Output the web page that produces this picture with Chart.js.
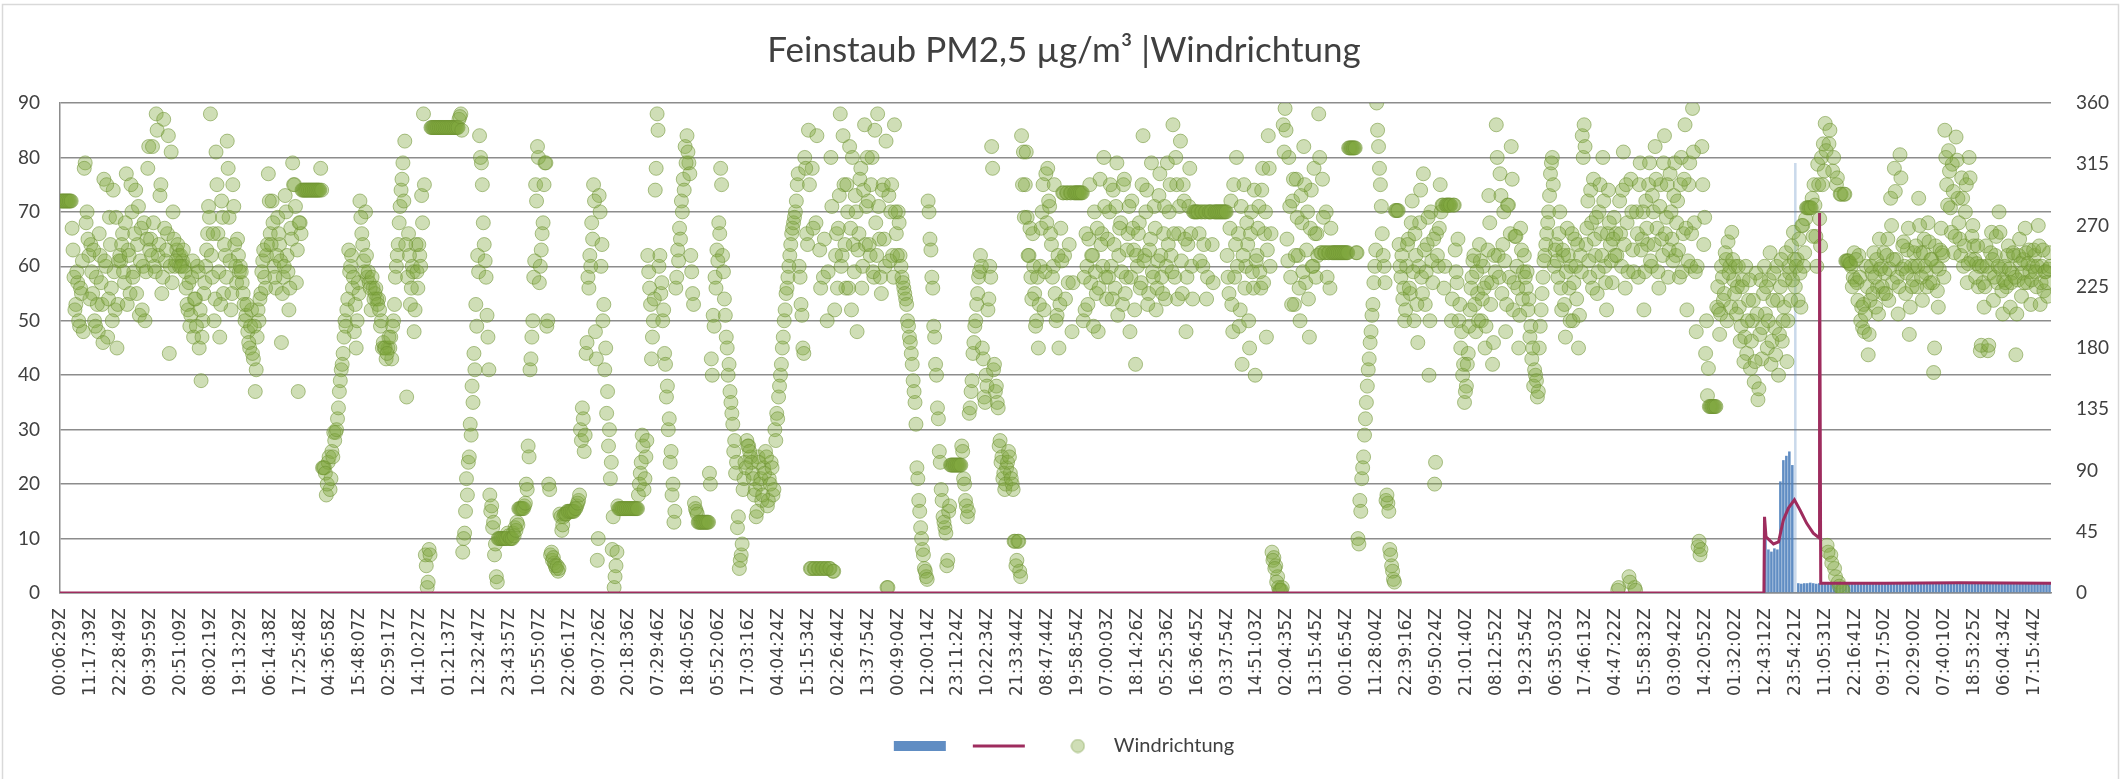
<!DOCTYPE html>
<html><head><meta charset="utf-8">
<script src="https://cdn.jsdelivr.net/npm/chart.js@4.4.1/dist/chart.umd.min.js"></script>
<style>html,body{margin:0;padding:0;background:#fff;}canvas{display:block;}</style>
</head><body>
<canvas id="c" width="2128" height="779"></canvas>
<script>
const timeLabels = ["00:06:29Z","11:17:39Z","22:28:49Z","09:39:59Z","20:51:09Z","08:02:19Z","19:13:29Z","06:14:38Z","17:25:48Z","04:36:58Z",
"15:48:07Z","02:59:17Z","14:10:27Z","01:21:37Z","12:32:47Z","23:43:57Z","10:55:07Z","22:06:17Z","09:07:26Z","20:18:36Z",
"07:29:46Z","18:40:56Z","05:52:06Z","17:03:16Z","04:04:24Z","15:15:34Z","02:26:44Z","13:37:54Z","00:49:04Z","12:00:14Z",
"23:11:24Z","10:22:34Z","21:33:44Z","08:47:44Z","19:58:54Z","07:00:03Z","18:14:26Z","05:25:36Z","16:36:45Z","03:37:54Z",
"14:51:03Z","02:04:35Z","13:15:45Z","00:16:54Z","11:28:04Z","22:39:16Z","09:50:24Z","21:01:40Z","08:12:52Z","19:23:54Z",
"06:35:03Z","17:46:13Z","04:47:22Z","15:58:32Z","03:09:42Z","14:20:52Z","01:32:02Z","12:43:12Z","23:54:21Z","11:05:31Z",
"22:16:41Z","09:17:50Z","20:29:00Z","07:40:10Z","18:53:25Z","06:04:34Z","17:15:44Z"];

// Windrichtung (degrees): 16 samples per label interval, two interleaved passes
const samplesPerLabel = 16;
const windA = [
288,288,288,288,288,288,268,232,212,228,196,220,192,316,280,248,
256,220,200,232,192,248,212,304,240,188,276,224,296,208,180,244,
244,264,228,308,252,220,280,236,296,256,204,268,240,200,260,328,
260,328,240,352,248,292,220,348,244,264,176,324,280,240,252,248,
248,244,240,224,208,196,232,188,216,240,180,156,200,228,252,284,
352,232,200,324,264,188,288,220,248,332,276,208,300,256,228,248,
240,228,212,204,192,180,208,172,148,188,200,220,244,232,248,308,
264,288,240,224,276,256,184,232,292,248,208,268,316,300,228,148,
272,296,296,296,296,296,296,296,296,296,296,312,92,92,72,96,
76,104,118,118,128,148,164,176,200,208,252,240,224,192,180,228,
288,264,244,280,232,228,208,224,220,216,216,196,180,180,172,180,
180,172,200,232,248,272,296,316,332,144,264,212,240,192,256,224,
248,292,352,28,4,32,342,342,342,342,342,342,342,342,342,342,
342,342,342,342,342,348,352,30,44,84,96,124,152,176,212,248,
336,316,272,244,204,164,60,48,28,12,40,40,40,40,40,44,
40,40,44,48,52,62,62,62,64,80,108,164,188,232,300,328,
228,252,272,316,196,80,28,24,22,18,16,58,46,56,58,60];
const windB = [
60,60,60,62,64,68,120,136,104,176,232,248,272,300,192,24,
292,240,200,164,132,108,84,32,4,20,64,62,62,62,62,62,
62,62,62,62,62,72,88,116,76,100,248,224,172,200,296,352,
240,220,200,176,144,120,96,72,52,224,252,268,288,304,328,336,
316,248,220,66,60,52,52,52,52,52,52,88,172,204,232,252,
272,312,248,216,188,160,148,132,104,88,48,18,28,76,96,112,
108,100,88,72,56,100,80,68,92,104,64,84,96,72,120,132,
144,160,180,200,220,232,248,264,272,280,300,240,212,180,320,264,
340,18,312,18,272,18,252,18,232,18,200,18,320,16,208,264,
268,352,248,300,224,280,328,208,256,292,192,264,312,240,344,284,
288,248,320,232,272,352,260,220,300,240,4,292,280,248,344,264,
280,248,232,224,216,200,188,176,156,140,92,68,48,32,18,12,
288,260,232,196,168,136,104,76,56,48,20,60,94,94,94,94,
94,94,108,84,68,56,132,148,176,196,212,232,248,180,144,160,
208,240,328,164,148,140,108,96,84,76,92,104,88,80,38,20,
38,16,336,324,300,276,248,232,264,220,200,180,240,280,208,308,
312,284,256,240,220,204,180,268,294,248,294,228,294,192,294,294];
const windC = [
294,294,294,200,208,240,260,228,248,280,220,192,304,264,320,232,
260,280,240,296,224,316,248,272,212,304,232,264,192,288,252,168,
240,272,228,336,248,296,220,260,236,284,208,244,308,232,264,216,
316,280,248,344,232,300,264,332,220,288,192,256,312,240,280,280,
280,264,280,240,280,216,280,280,256,280,280,280,280,280,280,280,
248,220,288,192,232,320,264,208,168,300,240,256,180,280,224,160,
248,284,224,312,264,188,336,240,30,26,20,12,2,2,344,356,
260,320,232,288,212,304,248,200,272,328,228,280,188,296,240,264,
264,352,250,304,250,280,250,224,250,250,250,250,250,250,250,250,
250,327,327,327,327,250,40,68,84,100,128,152,172,192,212,240,
360,328,300,264,240,68,66,32,20,10,281,281,256,232,216,200,
240,260,220,288,200,248,184,272,232,308,212,256,160,280,228,80,
264,240,300,285,224,285,285,285,200,285,252,228,200,180,160,140,
152,176,208,232,248,192,220,256,200,240,180,228,292,212,168,248,
344,248,308,220,280,192,285,232,328,208,262,240,180,268,216,248,
224,208,188,172,152,160,144,180,208,232,248,264,280,308,320,240,
256,232,280,208,248,188,268,224,240,200,260,216,180,248,336,344];
const windD = [
256,288,232,272,304,248,220,280,264,320,240,208,296,256,228,276,
264,2,288,240,324,224,272,12,304,252,4,280,232,316,260,208,
288,256,316,240,280,328,268,224,300,248,336,276,232,308,260,292,
248,288,232,320,264,344,208,300,240,356,272,192,34,28,328,256,
176,145,137,137,137,137,210,208,205,232,220,245,258,240,265,230,
240,225,210,196,230,188,176,215,165,200,155,235,142,190,172,220,
205,180,230,168,215,195,240,160,225,185,210,250,200,235,255,265,
225,245,260,210,270,250,283,283,283,290,300,262,315,275,320,330,
345,35,330,28,310,18,300,8,293,3,293,244,244,242,240,232,
230,228,248,200,195,192,240,175,215,235,250,210,225,260,240,220,
235,248,215,290,228,312,245,205,322,238,258,220,252,190,240,230,
240,225,290,250,215,260,235,272,228,245,162,255,222,238,268,248,
340,300,325,283,315,250,335,290,260,305,240,280,228,320,245,270,
245,242,225,178,240,210,255,178,235,265,215,248,228,280,238,205,
240,225,255,210,235,248,175,230,260,218,245,268,228,252,212,240,
248,225,270,212,240,222,236,218,250];

// second pass, half a sample later
const windA2 = [
288,288,288,288,288,288,252,208,236,200,224,244,312,272,260,216,
236,252,196,212,264,228,184,244,300,216,256,200,236,276,212,248,
256,236,272,212,248,300,232,264,220,284,244,208,272,236,312,252,
248,272,236,340,256,300,232,268,252,336,240,228,260,244,256,240,
240,252,236,212,228,204,244,216,196,236,208,188,220,240,264,276,
248,264,216,300,236,212,276,256,232,312,244,220,284,240,260,236,
236,220,200,212,184,196,176,196,164,208,216,236,252,224,256,288,
256,272,232,248,264,244,220,240,280,236,224,260,300,284,252,272,
264,296,296,296,296,296,296,296,296,296,296,296,92,88,80,100,
84,100,112,120,136,156,168,188,196,216,236,248,232,212,200,220,
276,256,236,248,236,224,232,216,224,212,208,200,184,180,176,188,
188,196,212,240,256,284,304,288,256,232,248,224,236,208,236,256,
240,272,300,20,8,28,342,342,342,342,342,342,342,342,342,342,
342,342,342,342,342,350,340,40,60,72,100,116,140,164,196,236,
320,300,256,232,188,72,64,52,36,8,40,40,40,40,40,42,
40,40,42,46,50,62,62,62,66,76,100,172,200,244,288,320,
240,264,300,316,200,76,30,26,20,20,18,56,50,58,58,60];
const windB2 = [
60,60,60,62,66,72,112,128,116,184,224,240,260,288,172,40,
280,256,212,180,148,120,96,56,12,30,62,62,62,62,62,62,
62,62,62,62,62,80,96,108,84,112,236,212,188,216,312,340,
248,228,208,168,152,128,104,80,60,232,244,260,280,296,316,324,
308,236,212,62,58,52,52,52,52,52,52,80,160,196,224,244,
264,300,236,204,180,168,140,124,112,96,56,24,36,84,92,108,
104,96,84,76,60,96,84,72,88,100,68,80,92,76,112,128,
152,168,188,208,224,240,256,268,276,288,308,232,204,176,312,256,
300,18,268,18,336,18,224,18,260,18,236,18,284,16,248,224,
292,240,336,256,300,224,268,320,236,280,252,304,224,296,256,320,
256,300,236,340,248,284,232,296,260,332,4,244,300,232,280,248,
272,240,228,220,212,196,184,168,148,124,84,60,40,28,16,10,
280,252,224,188,160,128,96,68,52,44,24,64,94,94,94,94,
94,94,104,80,64,60,136,156,184,200,220,236,240,172,140,152,
216,232,312,168,152,136,112,100,88,80,96,100,84,76,38,24,
38,12,300,276,324,248,268,216,240,196,232,212,268,300,236,272,
288,264,232,300,200,248,212,244,294,216,294,256,294,228,294,294];
const windC2 = [
294,294,294,232,264,212,300,248,196,236,268,224,256,240,284,216,
232,300,216,256,284,204,268,236,300,220,252,284,232,268,208,248,
264,224,300,244,280,212,252,316,232,268,224,292,248,220,284,240,
256,300,236,264,320,216,284,244,300,260,232,284,264,216,280,280,
280,244,280,256,280,232,280,280,228,280,280,280,280,280,280,280,
232,268,212,300,256,240,196,284,248,224,272,200,264,236,296,244,
268,236,296,228,280,252,312,264,24,18,8,4,2,4,324,340,
244,284,212,304,248,276,224,292,236,300,252,216,268,240,312,232,
248,320,250,276,250,232,250,268,250,250,250,250,250,250,250,250,
250,327,327,327,327,250,36,60,92,116,140,164,184,204,228,252,
340,312,284,248,228,72,60,28,16,8,281,281,240,248,224,208,
256,224,272,236,264,212,240,296,220,252,236,276,200,244,260,96,
248,268,280,285,240,285,285,285,216,285,236,260,212,192,168,148,
168,196,224,244,212,236,200,244,216,224,196,252,272,228,184,236,
320,232,292,256,244,212,285,264,304,228,262,224,204,252,236,232,
236,216,196,180,164,156,148,196,220,244,256,272,292,316,300,252,
244,264,224,252,212,236,248,200,264,228,240,256,204,236,320,328];
const windD2 = [
268,244,296,224,260,276,236,300,248,288,228,264,272,244,260,248,
248,4,264,296,256,300,236,8,280,236,2,264,300,252,280,236,
268,300,244,292,256,304,236,284,260,316,264,300,252,280,244,316,
272,252,300,236,304,268,244,316,264,324,236,240,38,32,300,276,
200,165,137,137,137,137,225,190,240,215,250,200,235,210,245,220,
205,240,185,225,170,240,200,230,185,215,170,205,150,230,195,240,
225,200,250,185,235,175,215,190,245,200,230,170,240,215,230,245,
240,215,235,270,240,275,283,283,283,262,285,240,300,255,300,310,
325,30,340,22,320,12,305,5,293,2,293,244,244,242,225,250,
245,215,232,210,212,205,225,190,240,220,232,245,205,238,225,250,
220,260,238,270,245,295,232,225,305,255,240,235,268,210,225,250,
255,240,270,232,250,240,225,258,245,228,180,240,210,252,250,232,
320,285,310,265,295,262,318,272,248,290,255,300,242,305,262,255,
232,255,240,182,228,225,240,182,250,245,232,262,240,265,222,230,
228,248,238,228,250,232,205,248,242,235,228,250,242,236,230,252,
236,240,255,228,252,236,228,238,240];

// Feinstaub PM2,5 (µg/m³), bars from time index pmStart every pmStep
const pmStart = 57.0, pmStep = 0.1;
const pmValues = [10.5,8.0,7.6,8.2,8.0,20.5,24.4,25.2,26.0,23.5,79.0,
1.8,1.7,1.8,1.8,1.9,1.8,1.7,1.8,1.8,1.8,
1.9,1.8,1.7,1.8,1.8,1.8,1.9,1.8,1.8,1.7,
1.8,1.8,1.9,1.8,1.8,1.7,1.8,1.8,1.8,1.9,
1.8,1.8,1.7,1.8,1.8,1.8,1.9,1.8,1.8,1.8,
1.7,1.8,1.8,1.9,1.8,1.8,1.8,1.7,1.8,1.8,
1.9,1.8,1.8,1.8,1.7,1.8,1.8,1.8,1.9,1.8,
1.8,1.7,1.8,1.8,1.8,1.9,1.8,1.8,1.8,1.7,
1.8,1.8,1.9,1.8,1.8,1.8,1.7,1.8,1.8,1.8,
1.9,1.8,1.8,1.7,1.8];

// second PM series (line)
const avgTimes  = [-0.03, 56.95, 56.97, 57.02, 57.10, 57.27, 57.44, 57.60, 57.77, 57.97, 58.16, 58.38, 58.60, 58.80, 58.81, 58.85, 61.0, 63.5, 66.55];
const avgValues = [0, 0, 14.0, 10.3, 9.9, 9.0, 9.4, 13.4, 15.6, 17.1, 15.2, 12.8, 11.0, 10.1, 69.8, 1.8, 1.8, 1.9, 1.8];

const windFirst = windA.concat(windB, windC, windD);
const windSecond = windA2.concat(windB2, windC2, windD2);
const windPoints = windFirst.map((v, i) => ({x: i / samplesPerLabel, y: v}))
  .concat(windSecond.map((v, i) => ({x: (i + 0.5) / samplesPerLabel, y: v})));
const pmPoints = pmValues.map((v, i) => ({x: pmStart + i * pmStep, y: v}));
const avgPoints = avgTimes.map((t, i) => ({x: t, y: avgValues[i]}));

const BLUE = 'rgba(79,129,189,0.9)';
const RED = '#9E2C5E';
const GREEN_FILL = 'rgba(128,168,62,0.38)';
const GREEN_LINE = 'rgba(110,145,50,0.55)';
const GRID = '#8c8c8c';
const TXT = '#404040';

function circleMarker(d, fill, stroke) {
  const c = document.createElement('canvas');
  c.width = c.height = d + 2;
  const g = c.getContext('2d');
  g.beginPath();
  g.arc((d + 2) / 2, (d + 2) / 2, d / 2, 0, Math.PI * 2);
  g.fillStyle = fill; g.fill();
  g.strokeStyle = stroke; g.lineWidth = 1; g.stroke();
  return c;
}
const legendCircle = circleMarker(13, GREEN_FILL, GREEN_LINE);

const framePlugin = {
  id: 'frame',
  beforeDraw(chart) {
    const c = chart.ctx;
    c.save();
    c.fillStyle = '#fff';
    c.fillRect(0, 0, chart.width, chart.height);
    c.strokeStyle = '#d9d9d9';
    c.lineWidth = 1.5;
    c.strokeRect(2.5, 4.5, 2116, 800);
    c.restore();
  }
};

Chart.defaults.font.family = 'Lato';

new Chart(document.getElementById('c'), {
  type: 'line',
  data: {
    datasets: [
      { type: 'bar', label: '', data: pmPoints, xAxisID: 'x', yAxisID: 'y',
        backgroundColor: (ctx) => (ctx.raw && ctx.raw.y > 50) ? 'rgba(79,129,189,0.3)' : BLUE,
        borderWidth: 0, barPercentage: 0.85, categoryPercentage: 1, order: 3,
        legendPoint: 'rect', legendFill: BLUE, legendStroke: BLUE, legendWidth: 0 },
      { type: 'line', label: '', data: avgPoints, xAxisID: 'x', yAxisID: 'y',
        borderColor: RED, backgroundColor: RED, borderWidth: 3, pointRadius: 0, tension: 0, fill: false, order: 1,
        legendPoint: 'line', legendFill: RED, legendStroke: RED, legendWidth: 3 },
      { type: 'scatter', label: 'Windrichtung', data: windPoints, xAxisID: 'x', yAxisID: 'y2',
        backgroundColor: GREEN_FILL, borderColor: GREEN_LINE, borderWidth: 1,
        pointRadius: 7, pointHoverRadius: 7, order: 2,
        legendPoint: legendCircle, legendFill: GREEN_FILL, legendStroke: GREEN_LINE, legendWidth: 1 }
    ]
  },
  options: {
    responsive: false, animation: false, events: [], devicePixelRatio: 1,
    layout: { padding: { left: 0, right: 0, top: 0, bottom: 13 } },
    plugins: {
      title: { display: true, text: 'Feinstaub PM2,5 µg/m³ |Windrichtung', color: TXT,
        font: { family: 'Lato', size: 35, weight: 'normal' }, padding: { top: 30, bottom: 31 } },
      legend: { display: true, position: 'bottom',
        labels: { usePointStyle: true, pointStyleWidth: 52, boxHeight: 10, padding: 17, color: TXT,
          font: { family: 'Lato', size: 20 },
          generateLabels: (chart) => chart.data.datasets.map((ds, i) => ({
            text: ds.label, datasetIndex: i, hidden: false, fontColor: TXT,
            fillStyle: ds.legendFill, strokeStyle: ds.legendStroke, lineWidth: ds.legendWidth,
            pointStyle: ds.legendPoint, rotation: 0
          }))
        } },
      tooltip: { enabled: false }
    },
    scales: {
      x: { type: 'linear', position: 'bottom', min: -0.03, max: 66.55, offset: false,
        grid: { display: false, drawTicks: false },
        border: { display: true, color: GRID, width: 1.5 },
        ticks: { autoSkip: false, maxRotation: 90, minRotation: 90, padding: 15, color: TXT,
          font: { family: 'DejaVu Sans', size: 17 },
          callback: (v, i) => timeLabels[i] },
        afterBuildTicks: (s) => { s.ticks = timeLabels.map((_, i) => ({ value: i })); },
        afterFit: (s) => { s.height = 126; } },
      y: { position: 'left', min: 0, max: 90,
        ticks: { stepSize: 10, padding: 20, color: TXT, font: { size: 19 } },
        grid: { color: GRID, lineWidth: 1.5, drawTicks: false },
        border: { display: true, color: GRID, width: 1.5 },
        afterFit: (s) => { s.width = 60; } },
      y2: { position: 'right', min: 0, max: 360,
        ticks: { stepSize: 45, padding: 25, color: TXT, font: { size: 19 } },
        grid: { display: false, drawTicks: false },
        border: { display: false },
        afterFit: (s) => { s.width = 77; } }
    }
  },
  plugins: [framePlugin]
});
</script>
</body></html>
